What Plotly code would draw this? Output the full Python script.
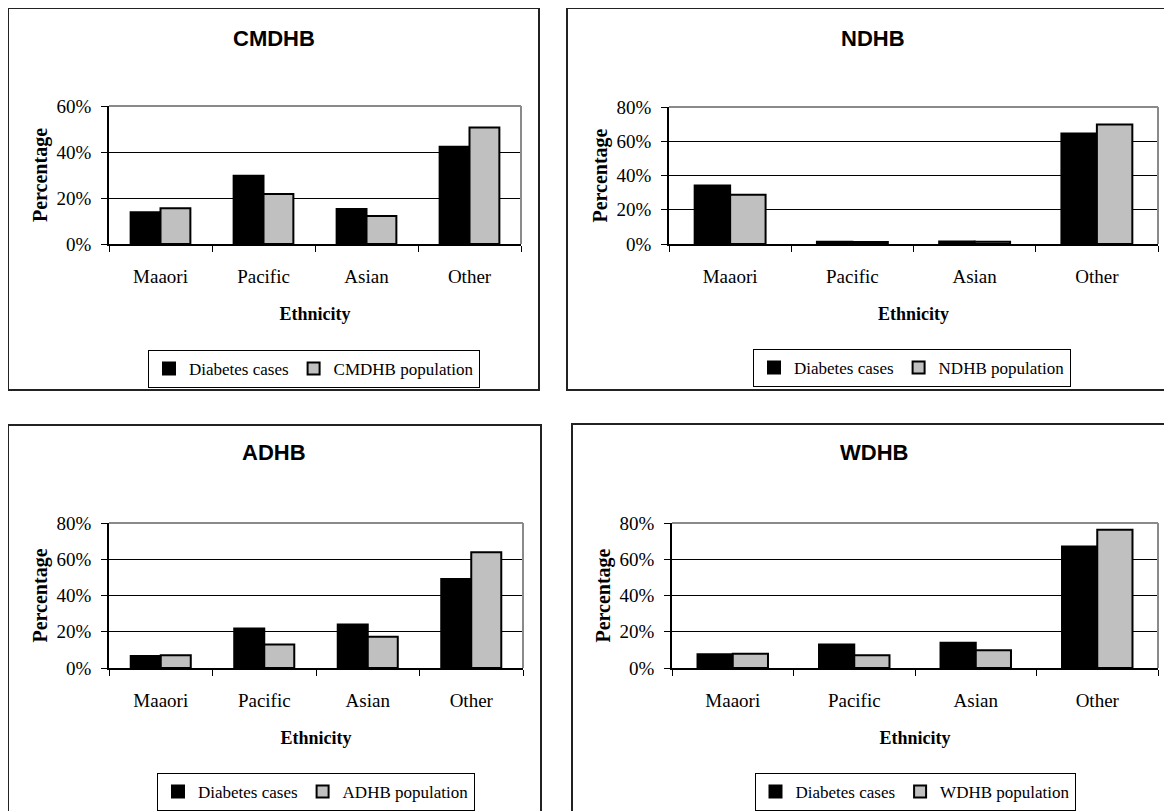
import plotly.graph_objects as go

categories = ["Maaori", "Pacific", "Asian", "Other"]

panel_titles = ["CMDHB", "NDHB", "ADHB", "WDHB"]
population_names = ["CMDHB population", "NDHB population", "ADHB population", "WDHB population"]

cmdhb_cases = [13.8, 29.7, 15.2, 42.3]
cmdhb_pop = [15.5, 21.7, 12.2, 50.7]

ndhb_cases = [34.1, 1.3, 1.5, 64.5]
ndhb_pop = [28.7, 1.1, 1.3, 69.8]

adhb_cases = [6.6, 21.8, 24.0, 49.1]
adhb_pop = [7.0, 13.0, 17.2, 63.9]

wdhb_cases = [7.6, 13.0, 14.0, 67.0]
wdhb_pop = [7.8, 7.0, 9.8, 76.3]

y_max = [60, 80, 80, 80]
y_ticks = [[0, 20, 40, 60], [0, 20, 40, 60, 80], [0, 20, 40, 60, 80], [0, 20, 40, 60, 80]]

cases = [cmdhb_cases, ndhb_cases, adhb_cases, wdhb_cases]
pops = [cmdhb_pop, ndhb_pop, adhb_pop, wdhb_pop]

W, H = 1172, 811
PAGE_OFFSET = 8  # default page margin around the figure
SERIF = "Liberation Serif, Times New Roman, serif"
SANS = "Liberation Sans, Arial, sans-serif"

# layout geometry in screen pixels (plot areas, boxes, legends, titles)
plot_px = [
    (109, 521, 106, 244),
    (669, 1158, 107, 244),
    (109, 523, 523, 668),
    (672, 1158, 523, 668),
]
box_px = [
    (8, 539, 8, 390),
    (567, 1190, 8, 390),
    (8, 541, 425, 840),
    (572, 1190, 424, 840),
]
title_px = [(273.5, 38), (873, 38), (274, 453), (874, 453)]
legend_px = [(314, 350), (912, 349), (316, 773), (915, 773)]


def px_x(v):
    return (v - PAGE_OFFSET) / W


def px_y(v):
    return 1 - (v - PAGE_OFFSET) / H


fig = go.Figure()
layout = dict(
    width=W, height=H,
    margin=dict(l=0, r=0, t=0, b=0, pad=0, autoexpand=False),
    paper_bgcolor="white", plot_bgcolor="white",
    barmode="group", bargap=0.42, bargroupgap=0.0,
    font=dict(family=SERIF, size=18, color="black"),
    showlegend=True,
)
shapes = []
annotations = []

for i in range(4):
    n = "" if i == 0 else str(i + 1)
    xa, ya = "x" + n, "y" + n
    leg = "legend" + n
    fig.add_trace(go.Bar(
        x=categories, y=cases[i], name="Diabetes cases",
        marker=dict(color="#000000", line=dict(color="#000000", width=2)),
        xaxis=xa, yaxis=ya, legend=leg,
    ))
    fig.add_trace(go.Bar(
        x=categories, y=pops[i], name=population_names[i],
        marker=dict(color="#c0c0c0", line=dict(color="#000000", width=2)),
        xaxis=xa, yaxis=ya, legend=leg,
    ))
    x0, x1, y0, y1 = plot_px[i]
    layout["xaxis" + n] = dict(
        domain=[px_x(x0), px_x(x1)], anchor=ya, type="category",
        showline=True, linecolor="black", linewidth=1.5,
        ticks="outside", tickson="boundaries", ticklen=6, tickcolor="black", tickwidth=1,
        showgrid=False, zeroline=False, automargin=False,
        tickfont=dict(family=SERIF, size=19), ticklabelstandoff=14,
        title=dict(text="<b>Ethnicity</b>", font=dict(family=SERIF, size=18), standoff=22),
        fixedrange=True,
    )
    layout["yaxis" + n] = dict(
        domain=[px_y(y1), px_y(y0)], anchor=xa, range=[0, y_max[i]],
        tickvals=y_ticks[i], ticktext=[f"{t}%" for t in y_ticks[i]],
        showgrid=True, gridcolor="black", gridwidth=1,
        showline=True, linecolor="black", linewidth=1.5,
        ticks="outside", ticklen=6, tickcolor="black", tickwidth=1,
        zeroline=False, automargin=False,
        tickfont=dict(family=SERIF, size=19), ticklabelstandoff=6,
        title=dict(text="<b>Percentage</b>", font=dict(family=SERIF, size=20), standoff=4),
        fixedrange=True,
    )
    lx, ly = legend_px[i]
    layout[leg] = dict(
        x=px_x(lx), xanchor="center", y=px_y(ly), yanchor="top",
        orientation="h", bordercolor="black", borderwidth=1, bgcolor="white",
        font=dict(family=SERIF, size=17), itemwidth=30, traceorder="normal",
        itemclick=False, itemdoubleclick=False,
    )
    # gray top and right frame of the plot area
    dom_x, dom_y = xa + " domain", ya + " domain"
    shapes.append(dict(type="line", xref=dom_x, yref=dom_y, x0=0, x1=1, y0=1, y1=1,
                       line=dict(color="#8a8a8a", width=2)))
    shapes.append(dict(type="line", xref=dom_x, yref=dom_y, x0=1, x1=1, y0=0, y1=1,
                       line=dict(color="#8a8a8a", width=2)))
    # outer panel box
    bx0, bx1, by0, by1 = box_px[i]
    shapes.append(dict(type="rect", xref="paper", yref="paper",
                       x0=px_x(bx0), x1=px_x(bx1), y0=px_y(by1), y1=px_y(by0),
                       line=dict(color="#222222", width=2), fillcolor="rgba(0,0,0,0)", layer="below"))
    tx, ty = title_px[i]
    annotations.append(dict(text="<b>" + panel_titles[i] + "</b>", xref="paper", yref="paper",
                            x=px_x(tx), y=px_y(ty), xanchor="center", yanchor="middle",
                            showarrow=False, font=dict(family=SANS, size=22, color="black")))

layout["shapes"] = shapes
layout["annotations"] = annotations
fig.update_layout(**layout)
fig.write_html("out.html")
